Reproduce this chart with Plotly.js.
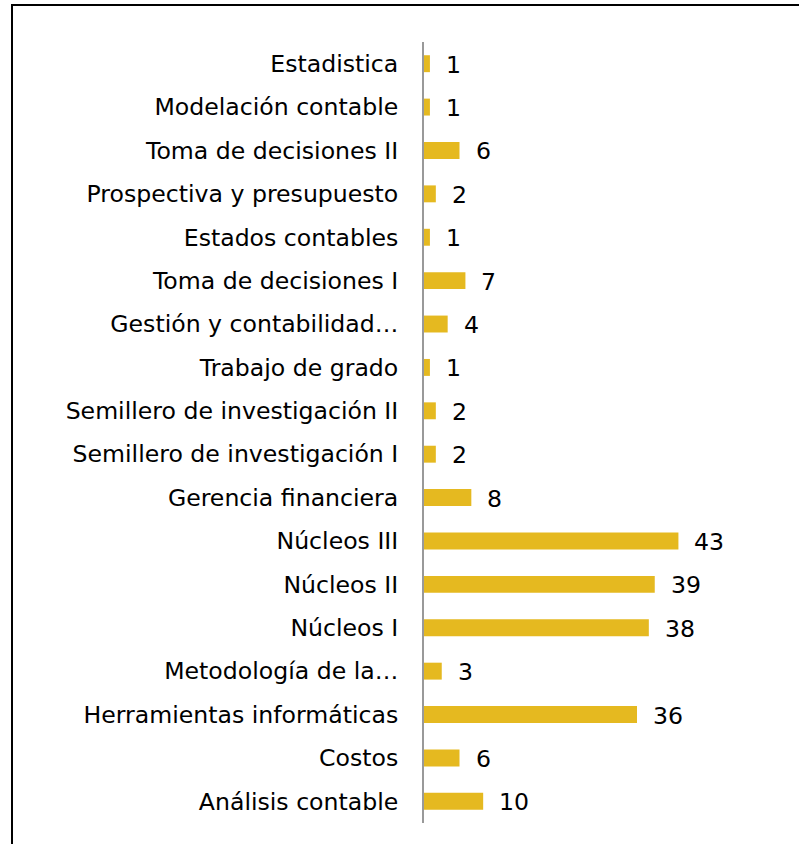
<!DOCTYPE html>
<html>
<head>
<meta charset="utf-8">
<script src="https://cdn.plot.ly/plotly-3.0.1.min.js"></script>
<style>
  html, body { margin: 0; padding: 0; background: #fff; overflow: hidden; }
  #chart { position: absolute; left: 0; top: 0; width: 799px; height: 844px; }
  #frame { position: absolute; left: 11px; top: 4px; width: 1000px; height: 1000px;
           border: 2.5px solid #000; pointer-events: none; }
</style>
</head>
<body>
<div id="chart"></div>
<div id="frame"></div>
<script>
// Categories listed bottom to top
const categories = [
  "Análisis contable",
  "Costos",
  "Herramientas informáticas",
  "Metodología de la…",
  "Núcleos I",
  "Núcleos II",
  "Núcleos III",
  "Gerencia financiera",
  "Semillero de investigación I",
  "Semillero de investigación II",
  "Trabajo de grado",
  "Gestión y contabilidad…",
  "Toma de decisiones I",
  "Estados contables",
  "Prospectiva y presupuesto",
  "Toma de decisiones II",
  "Modelación contable",
  "Estadistica"
];
const values = [10, 6, 36, 3, 38, 39, 43, 8, 2, 2, 1, 4, 7, 1, 2, 6, 1, 1];

const FONT = "DejaVu Sans, Verdana, sans-serif";
const FONT_SIZE = 23.6;

const trace = {
  type: "bar",
  orientation: "h",
  y: categories,
  x: values,
  marker: { color: "#E5B920" },
  hoverinfo: "x+y"
};

const annotations = categories.map((c, i) => ({
  x: values[i],
  y: c,
  xref: "x",
  yref: "y",
  text: String(values[i]),
  showarrow: false,
  xanchor: "left",
  yanchor: "middle",
  xshift: 14,
  yshift: -1,
  font: { family: FONT, size: FONT_SIZE, color: "#000" }
}));

const layout = {
  width: 799,
  height: 844,
  margin: { l: 424, r: 20, t: 42, b: 21, pad: 0 },
  paper_bgcolor: "#fff",
  plot_bgcolor: "#fff",
  showlegend: false,
  bargap: 0.61,
  font: { family: FONT, size: FONT_SIZE, color: "#000" },
  xaxis: {
    range: [0, 60],
    showgrid: false,
    zeroline: false,
    showticklabels: false,
    showline: false,
    ticks: "",
    fixedrange: true
  },
  yaxis: {
    type: "category",
    categoryorder: "array",
    categoryarray: categories,
    showgrid: false,
    zeroline: false,
    showline: true,
    linecolor: "#999999",
    linewidth: 2,
    ticks: "",
    ticklabelstandoff: 19,
    tickfont: { family: FONT, size: FONT_SIZE, color: "#000" },
    automargin: false,
    fixedrange: true
  },
  annotations: annotations
};

Plotly.newPlot("chart", [trace], layout, { displayModeBar: false, staticPlot: true });
</script>
</body>
</html>
